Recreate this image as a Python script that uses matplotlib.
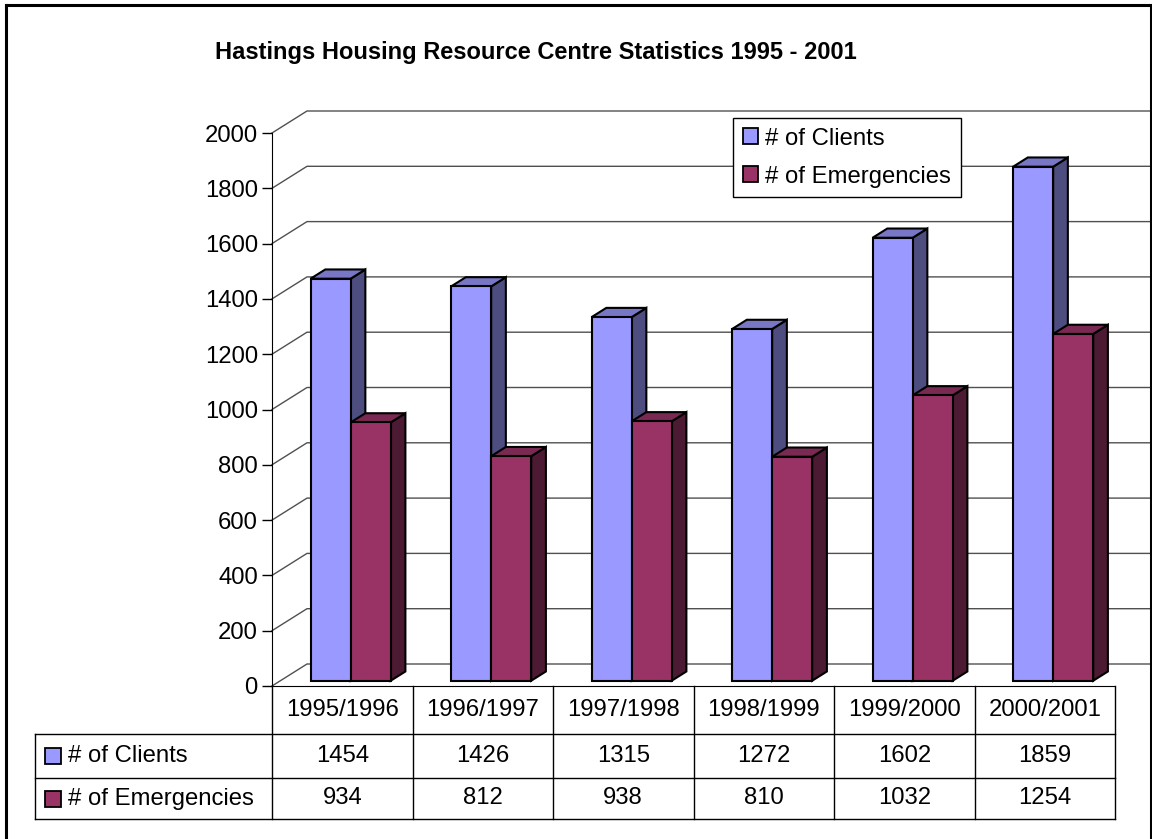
import matplotlib.pyplot as plt
from matplotlib.patches import Polygon, Rectangle, Patch
from matplotlib.lines import Line2D
from matplotlib.transforms import blended_transform_factory

# --- data ---
years = ["1995/1996", "1996/1997", "1997/1998", "1998/1999", "1999/2000", "2000/2001"]
clients = [1454, 1426, 1315, 1272, 1602, 1859]
emergencies = [934, 812, 938, 810, 1032, 1254]
series_names = ["# of Clients", "# of Emergencies"]
y_ticks = list(range(0, 2001, 200))

# colours: front, top, side
CLIENT_COLS = ("#9999FF", "#7777C6", "#4D4D80")
EMERG_COLS = ("#993366", "#7A2952", "#4D1A33")

W, H = 1152, 839
FONT = "Liberation Sans"
FS = 17.2


def fx(px):
    return px / W


def fy(py):
    return 1 - py / H


plt.rcParams["font.family"] = [FONT, "DejaVu Sans"]

fig = plt.figure(figsize=(W / 100, H / 100), dpi=100)
fig.patch.set_facecolor("white")

# front plane of the 3d plot
left, right, top, bottom = 272, 1115, 133, 686
ax = fig.add_axes([fx(left), fy(bottom), fx(right - left), (bottom - top) / H])
ax.set_xlim(0, len(years))
ax.set_ylim(0, 2000)
ax.patch.set_visible(False)

# depth of the 3d box in data units
px_x = (right - left) / len(years)
px_y = (bottom - top) / 2000
DX = 35 / px_x
DY = 22 / px_y

# walls / gridlines
for v in y_ticks:
    ax.plot([0, DX, len(years) + DX], [v, v + DY, v + DY],
            color="#505050", lw=1.0, clip_on=False, zorder=1)

# bars
bw = 0.285
f0, f1 = 0.24, 0.66
for i in range(len(years)):
    for s, (vals, cols) in enumerate([(clients, CLIENT_COLS), (emergencies, EMERG_COLS)]):
        v = vals[i]
        x0 = i + (1 - 2 * bw) / 2 + s * bw
        a, b = f0 * DX, f1 * DX
        ya, yb = f0 * DY, f1 * DY
        front = [(x0 + a, ya), (x0 + bw + a, ya), (x0 + bw + a, v + ya), (x0 + a, v + ya)]
        topf = [(x0 + a, v + ya), (x0 + bw + a, v + ya), (x0 + bw + b, v + yb), (x0 + b, v + yb)]
        side = [(x0 + bw + a, ya), (x0 + bw + b, yb), (x0 + bw + b, v + yb), (x0 + bw + a, v + ya)]
        for poly, c in [(side, cols[2]), (topf, cols[1]), (front, cols[0])]:
            ax.add_patch(Polygon(poly, closed=True, facecolor=c, edgecolor="black",
                                 lw=1.5, joinstyle="miter", zorder=3 + i * 2 + s, clip_on=False))

# axes styling
for sp in ["top", "right"]:
    ax.spines[sp].set_visible(False)
ax.spines["left"].set_color("black")
ax.spines["bottom"].set_color("black")
ax.set_xticks([])
ax.set_yticks(y_ticks)
ax.tick_params(axis="y", direction="out", length=7.2, width=1, pad=3, labelsize=FS)

# data table below the plot
tr = blended_transform_factory(ax.transData, fig.transFigure)
row_top, row1, row2, row_bot = 686, 734, 778, 819
tab_left = 35
for k in range(len(years) + 1):
    ax.add_line(Line2D([k, k], [fy(row_top), fy(row_bot)], color="black", lw=1,
                       transform=tr, clip_on=False))
for r in [row1, row2, row_bot]:
    fig.add_artist(Line2D([fx(tab_left), fx(right)], [fy(r), fy(r)], color="black", lw=1))
fig.add_artist(Line2D([fx(tab_left), fx(tab_left)], [fy(row1), fy(row_bot)], color="black", lw=1))

for k, yr in enumerate(years):
    ax.text(k + 0.5, fy((row_top + row1) / 2), yr, transform=tr, ha="center", va="center", fontsize=FS)
    ax.text(k + 0.5, fy((row1 + row2) / 2), str(clients[k]), transform=tr, ha="center", va="center", fontsize=FS)
    ax.text(k + 0.5, fy((row2 + row_bot) / 2), str(emergencies[k]), transform=tr, ha="center", va="center", fontsize=FS)

for name, cols, (r0, r1) in zip(series_names, [CLIENT_COLS, EMERG_COLS], [(row1, row2), (row2, row_bot)]):
    yc = (r0 + r1) / 2
    fig.add_artist(Rectangle((fx(45), fy(yc + 8)), fx(16), 16 / H,
                             facecolor=cols[0], edgecolor="black", lw=1.3))
    fig.text(fx(68), fy(yc), name, ha="left", va="center", fontsize=FS)

# legend
handles = [Patch(facecolor=CLIENT_COLS[0], edgecolor="black", lw=1.3),
           Patch(facecolor=EMERG_COLS[0], edgecolor="black", lw=1.3)]
leg = fig.legend(handles, series_names, loc="upper left",
                 bbox_to_anchor=(fx(733), fy(118)), borderaxespad=0,
                 fontsize=FS, frameon=True, fancybox=False, edgecolor="black",
                 handlelength=0.65, handleheight=0.65, handletextpad=0.3,
                 labelspacing=0.68, borderpad=0.4, framealpha=1)
leg.get_frame().set_linewidth(1.0)

# title
fig.text(fx(536), fy(52), "Hastings Housing Resource Centre Statistics 1995 - 2001",
         ha="center", va="center", fontsize=17, fontweight="bold")

# outer border (bottom edge is cut off in the original)
bc = dict(color="black", lw=2.2)
fig.add_artist(Line2D([fx(6), fx(6)], [fy(5), 0], **bc))
fig.add_artist(Line2D([fx(6), fx(1151)], [fy(5), fy(5)], **bc))
fig.add_artist(Line2D([fx(1151), fx(1151)], [fy(5), 0], **bc))

fig.savefig("out.png", dpi=100)
